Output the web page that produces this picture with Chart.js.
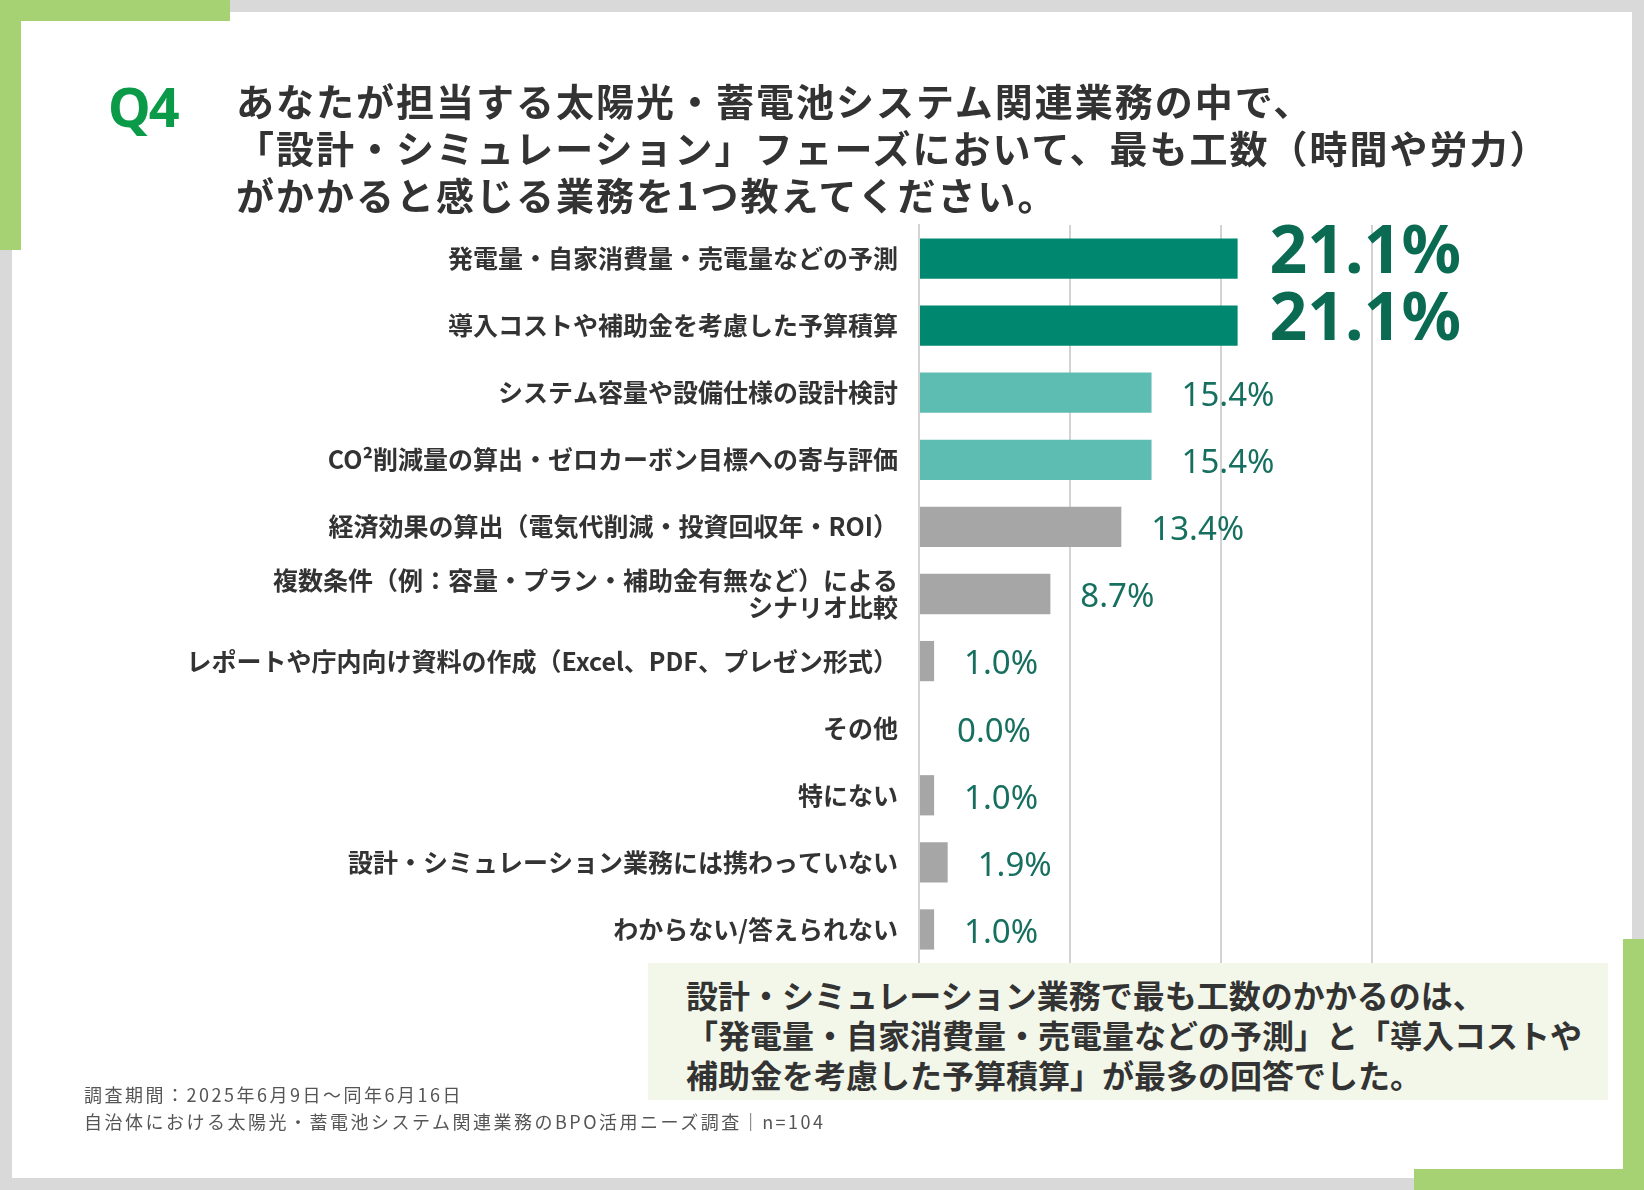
<!DOCTYPE html>
<html lang="ja">
<head>
<meta charset="utf-8">
<script src="https://cdn.jsdelivr.net/npm/chart.js@4.4.1/dist/chart.umd.min.js"></script>
<style>
  html, body { margin: 0; padding: 0; }
  body { width: 1644px; height: 1190px; position: relative; background: #d9d9d9; overflow: hidden;
         font-family: "Noto Sans CJK JP", "Noto Sans", sans-serif; }
  .card { position: absolute; left: 12px; top: 12px; width: 1620px; height: 1166px; background: #fff; }
  .green { position: absolute; background: #a6d273; }
  #chart { position: absolute; left: 0; top: 0; z-index: 2; }
  .q { position: absolute; left: 108px; top: 69px; font: bold 54px "Noto Sans", sans-serif; color: #0a9a48; letter-spacing: -2px; z-index: 3; }
  .title { position: absolute; left: 236px; top: 76px; font-weight: bold; font-size: 38px; line-height: 47px; color: #333; letter-spacing: 2px; z-index: 3; white-space: nowrap; }
  .note { position: absolute; left: 648px; top: 963px; width: 960px; height: 137px; background: #f2f7ea; z-index: 3; }
  .note div { position: absolute; left: 38px; top: 11px; font-weight: bold; font-size: 32px; line-height: 40px; color: #333; letter-spacing: 0px; white-space: nowrap; }
  .foot { position: absolute; left: 84px; top: 1081px; font-size: 18px; line-height: 27px; color: #555; letter-spacing: 2.5px; z-index: 3; white-space: nowrap; }
</style>
</head>
<body>
<div class="card"></div>
<div class="green" style="left:0;top:0;width:230px;height:21px"></div>
<div class="green" style="left:0;top:0;width:21px;height:250px"></div>
<div class="green" style="left:1623px;top:939px;width:21px;height:251px"></div>
<div class="green" style="left:1414px;top:1169px;width:230px;height:21px"></div>

<div class="q">Q4</div>
<div class="title">あなたが担当する太陽光・蓄電池システム関連業務の中で、<br>「設計・シミュレーション」フェーズにおいて、最も工数（時間や労力）<br>がかかると感じる業務を1つ教えてください。</div>

<canvas id="chart" width="1644" height="1190"></canvas>

<div class="note"><div>設計・シミュレーション業務で最も工数のかかるのは、<br>「発電量・自家消費量・売電量などの予測」と「導入コストや<br>補助金を考慮した予算積算」が最多の回答でした。</div></div>

<div class="foot">調査期間：2025年6月9日〜同年6月16日<br>自治体における太陽光・蓄電池システム関連業務のBPO活用ニーズ調査｜n=104</div>

<script>
// DATA

const categories = [
  "発電量・自家消費量・売電量などの予測",
  "導入コストや補助金を考慮した予算積算",
  "システム容量や設備仕様の設計検討",
  "CO²削減量の算出・ゼロカーボン目標への寄与評価",
  "経済効果の算出（電気代削減・投資回収年・ROI）",
  ["複数条件（例：容量・プラン・補助金有無など）による", "シナリオ比較"],
  "レポートや庁内向け資料の作成（Excel、PDF、プレゼン形式）",
  "その他",
  "特にない",
  "設計・シミュレーション業務には携わっていない",
  "わからない/答えられない"
];

const shares = [21.1, 21.1, 15.4, 15.4, 13.4, 8.7, 1.0, 0.0, 1.0, 1.9, 1.0];

const barColors = [
  "#00876f", "#00876f", "#5dbdb2", "#5dbdb2",
  "#a6a6a6", "#a6a6a6", "#a6a6a6", "#a6a6a6", "#a6a6a6", "#a6a6a6", "#a6a6a6"
];

const axisMax = 30;


// VALUE LABELS

const valueLabels = {
  id: "valueLabels",
  afterDatasetsDraw(chart) {
    const ctx = chart.ctx;
    const meta = chart.getDatasetMeta(0);
    ctx.save();
    ctx.textAlign = "left";
    ctx.textBaseline = "middle";
    meta.data.forEach((bar, i) => {
      const text = shares[i].toFixed(1) + "%";
      if (i < 2) {
        ctx.font = "bold 66px 'Noto Sans'";
        ctx.fillStyle = "#0b6b52";
        ctx.fillText(text, bar.x + 32, bar.y - 4);
      } else {
        ctx.font = "33px 'Noto Sans'";
        ctx.fillStyle = "#17705f";
        ctx.fillText(text, bar.x + (shares[i] === 0 ? 38 : 30), bar.y + 4);
      }
    });
    ctx.restore();
  }
};


// CHART

new Chart(document.getElementById("chart"), {
  type: "bar",
  data: {
    labels: categories,
    datasets: [{
      data: shares,
      backgroundColor: barColors,
      barPercentage: 0.6,
      categoryPercentage: 1
    }]
  },
  options: {
    indexAxis: "y",
    responsive: false,
    animation: false,
    devicePixelRatio: 1,
    layout: { padding: { top: 225, bottom: 227, left: 0, right: 272 } },
    plugins: {
      legend: { display: false },
      tooltip: { enabled: false }
    },
    scales: {
      x: {
        min: 0,
        max: axisMax,
        ticks: { display: false, stepSize: 10 },
        grid: { color: "#d3d3d3", lineWidth: 2, drawTicks: false },
        border: { display: false },
        afterFit(scale) { scale.height = 0; }
      },
      y: {
        grid: { display: false, drawTicks: false },
        border: { color: "#d3d3d3", width: 2 },
        ticks: {
          color: "#333",
          padding: 21,
          font: { family: "'Noto Sans CJK JP'", size: 25, weight: "bold", lineHeight: 1.1 }
        },
        afterFit(scale) { scale.width = 919; }
      }
    }
  },
  plugins: [valueLabels]
});
</script>
</body>
</html>
